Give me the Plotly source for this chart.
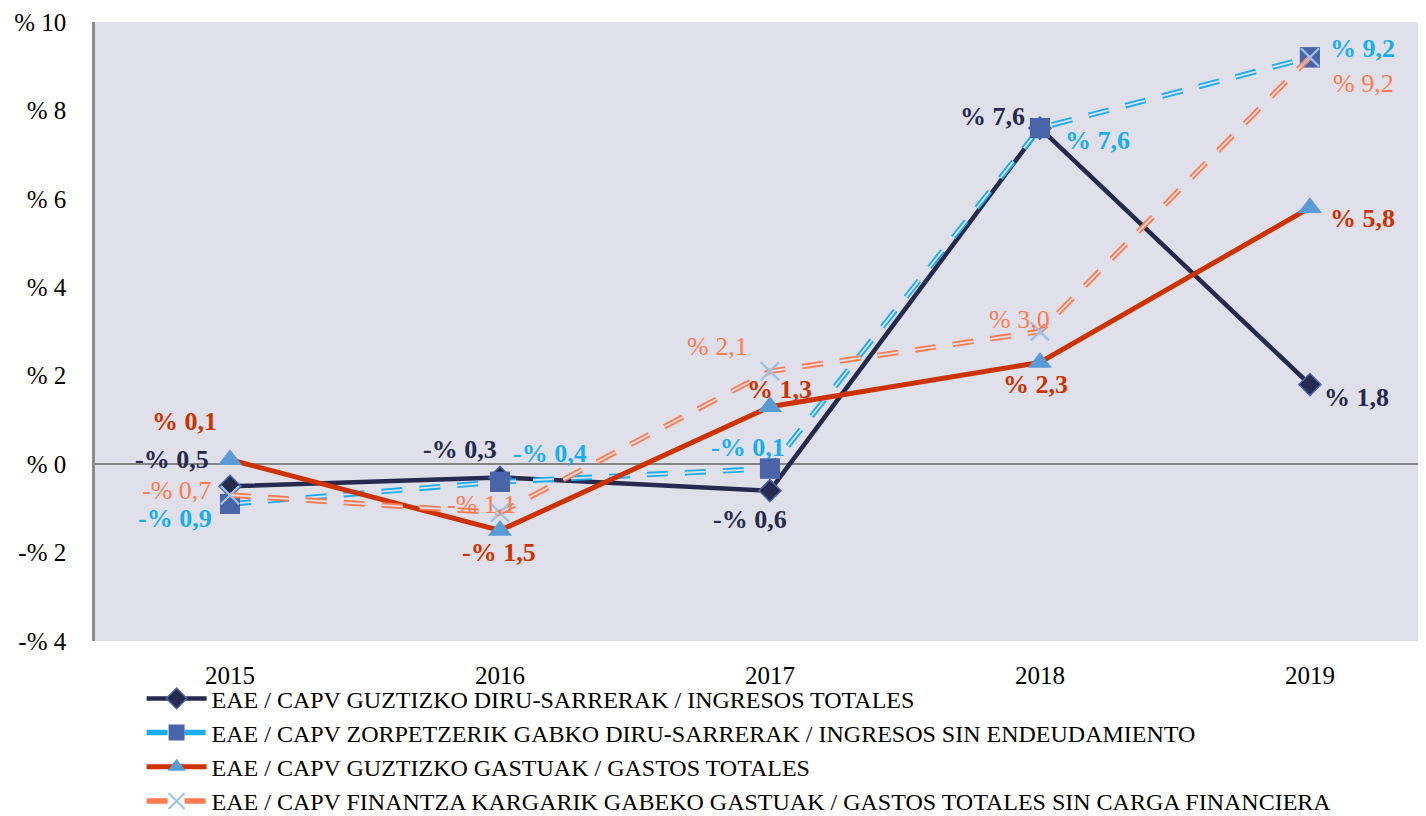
import plotly.graph_objects as go

years = ["2015", "2016", "2017", "2018", "2019"]
names = [
    "EAE / CAPV GUZTIZKO DIRU-SARRERAK / INGRESOS TOTALES",
    "EAE / CAPV ZORPETZERIK GABKO DIRU-SARRERAK / INGRESOS SIN ENDEUDAMIENTO",
    "EAE / CAPV GUZTIZKO GASTUAK / GASTOS TOTALES",
    "EAE / CAPV FINANTZA KARGARIK GABEKO GASTUAK / GASTOS TOTALES SIN CARGA FINANCIERA",
]
ingresos_totales = [-0.5, -0.3, -0.6, 7.6, 1.8]
ingresos_sin_endeud = [-0.9, -0.4, -0.1, 7.6, 9.2]
gastos_totales = [0.1, -1.5, 1.3, 2.3, 5.8]
gastos_sin_carga = [-0.7, -1.1, 2.1, 3.0, 9.2]

ytick_vals = [-4, -2, 0, 2, 4, 6, 8, 10]
ytick_text = ["-% 4", "-% 2", "% 0", "% 2", "% 4", "% 6", "% 8", "% 10"]

FONT = "Liberation Serif"
BG = "#E0E0EA"
DASH = "21px,17px"

def fmt(v):
    s = ("%.1f" % abs(v)).replace(".", ",")
    return ("-% " if v < 0 else "% ") + s

fig = go.Figure()

series = [
    dict(y=ingresos_totales, name=names[0], color="#262A4E", width=4.5, dash=None,
         marker=dict(symbol="diamond", size=17, color="#262A4E", line=dict(color="#4A67AC", width=1.5))),
    dict(y=ingresos_sin_endeud, name=names[1], color="#19AEEF", width=5.5, dash=DASH,
         marker=dict(symbol="square", size=20, color="#4A64AA", line=dict(color="#4A64AA", width=0))),
    dict(y=gastos_totales, name=names[2], color="#CC3300", width=5, dash=None,
         marker=dict(symbol="triangle-up", size=21, color="#5B9BD5", line=dict(width=0))),
    dict(y=gastos_sin_carga, name=names[3], color="#FF7B4F", width=5.5, dash=DASH,
         marker=dict(symbol="x-thin", size=18, color="#9DC3E6", line=dict(color="#9DC3E6", width=2))),
]

for s in series:
    line = dict(color=s["color"], width=s["width"])
    if s["dash"]:
        line["dash"] = s["dash"]
    fig.add_trace(go.Scatter(x=years, y=s["y"], name=s["name"], mode="lines+markers",
                             line=line, marker=s["marker"]))
    if s["dash"]:
        fig.add_trace(go.Scatter(x=years, y=s["y"], mode="lines", showlegend=False, hoverinfo="skip",
                                 line=dict(color=BG, width=1.8, dash=s["dash"])))
        fig.add_trace(go.Scatter(x=years, y=s["y"], mode="markers", showlegend=False, hoverinfo="skip",
                                 marker=s["marker"]))

# label offsets (px, y up) per series/point
label_style = [
    dict(color="#262A4E", bold=True, offs=[(-58, 27), (-40, 28), (-20, -29), (-47, 12), (47, -13)]),
    dict(color="#1AAEEF", bold=True, offs=[(-55, -15), (50, 28), (-22, 21), (58, -12), (53, 9)]),
    dict(color="#CC3300", bold=True, offs=[(-45, 38), (-1, -22), (10, 17), (-4, -22), (53, -11)]),
    dict(color="#FF7B4F", bold=False, offs=[(-53, 5), (-18, 8), (-52, 25), (-20, 12), (54, -26)]),
]
data = [ingresos_totales, ingresos_sin_endeud, gastos_totales, gastos_sin_carga]
for vals, st in zip(data, label_style):
    for i, v in enumerate(vals):
        t = fmt(v)
        if st["bold"]:
            t = "<b>" + t + "</b>"
        fig.add_annotation(x=i, y=v, xref="x", yref="y", text=t, showarrow=False,
                           xshift=st["offs"][i][0], yshift=st["offs"][i][1],
                           xanchor="center", yanchor="middle",
                           font=dict(family=FONT, size=26, color=st["color"]))

fig.update_layout(
    width=1418, height=808,
    margin=dict(l=87, r=0, t=14, b=175, autoexpand=False),
    paper_bgcolor="white", plot_bgcolor=BG,
    font=dict(family=FONT, size=25, color="#000000"),
    showlegend=True,
    legend=dict(x=0.035, y=-0.057, xanchor="left", yanchor="top",
                font=dict(family=FONT, size=24, color="#000000"),
                bgcolor="rgba(0,0,0,0)", tracegroupgap=0, itemwidth=60),
    xaxis=dict(type="category", range=[-0.5, 4.43], showgrid=False, zeroline=False,
               showline=False, ticks="", ticklabelstandoff=17,
               tickfont=dict(family=FONT, size=25)),
    yaxis=dict(range=[-4, 10], tickvals=ytick_vals, ticktext=ytick_text,
               showgrid=False, zeroline=True, zerolinecolor="#858585", zerolinewidth=2,
               showline=True, linecolor="#8C8C8C", linewidth=2.5, ticks="",
               ticklabelstandoff=21, tickfont=dict(family=FONT, size=25)),
)

fig.write_html("out.html")
